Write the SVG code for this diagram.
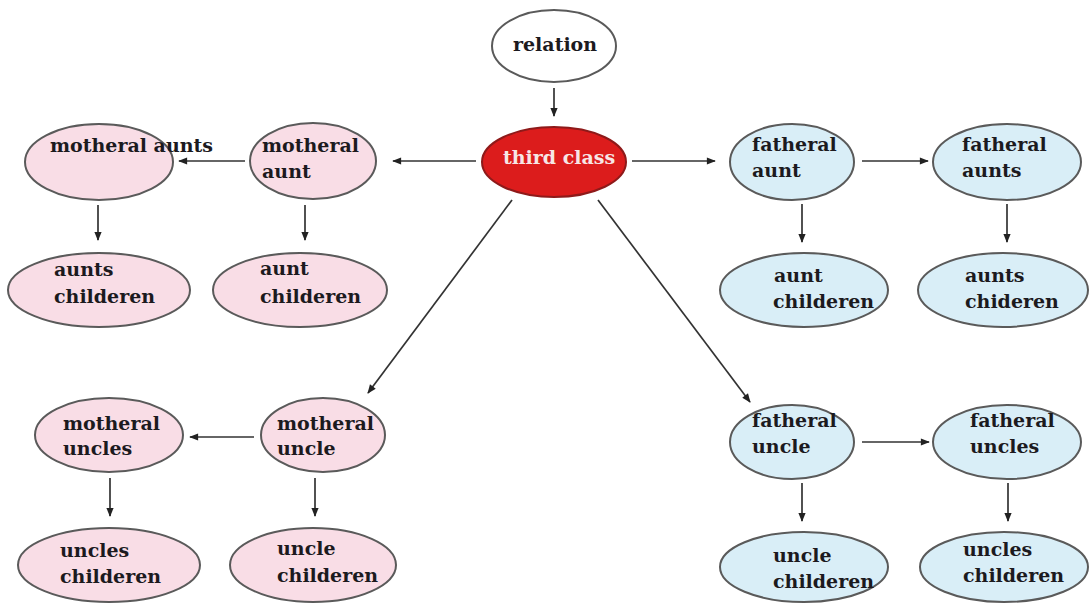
<svg xmlns="http://www.w3.org/2000/svg" width="1089" height="603" viewBox="0 0 1089 603">
<style>
.pink{fill:#f9dde6;stroke:#5a5a5a;stroke-width:2}
.blue{fill:#d9eef7;stroke:#5a5a5a;stroke-width:2}
.white{fill:#fff;stroke:#5a5a5a;stroke-width:2}
.red{fill:#dc1c1c;stroke:#8e1a1a;stroke-width:2}
text{font-family:"DejaVu Serif","Liberation Serif",serif;font-weight:bold;font-size:19px;fill:#1c1a1e}
.wt{fill:#f7e6e6}
.c line{stroke:#333;stroke-width:1.7;marker-end:url(#ah)}
</style>
<defs>
<marker id="ah" viewBox="0 0 10 10" refX="9" refY="5" markerWidth="10" markerHeight="9" markerUnits="userSpaceOnUse" orient="auto">
<path d="M0,1 L10,5 L0,9 z" fill="#222"/>
</marker>
</defs>
<rect width="1089" height="603" fill="#fff"/>
<g class="c" id="connectors">
<line x1="554" y1="88" x2="554" y2="116"/>
<line x1="476" y1="161" x2="393" y2="161"/>
<line x1="245" y1="161" x2="179" y2="161"/>
<line x1="98" y1="205" x2="98" y2="240"/>
<line x1="305" y1="205" x2="305" y2="240"/>
<line x1="632" y1="161" x2="715" y2="161"/>
<line x1="862" y1="161" x2="928" y2="161"/>
<line x1="802" y1="204" x2="802" y2="242"/>
<line x1="1007" y1="204" x2="1007" y2="242"/>
<line x1="512" y1="200" x2="368" y2="393"/>
<line x1="598" y1="200" x2="750" y2="402"/>
<line x1="254" y1="437" x2="190" y2="437"/>
<line x1="110" y1="478" x2="110" y2="516"/>
<line x1="315" y1="478" x2="315" y2="516"/>
<line x1="862" y1="442" x2="929" y2="442"/>
<line x1="802" y1="483" x2="802" y2="521"/>
<line x1="1008" y1="483" x2="1008" y2="521"/>
</g>
<g id="relation"><ellipse class="white" cx="554" cy="46" rx="62" ry="36"/><text x="513" y="51">relation</text></g>
<g id="third-class"><ellipse class="red" cx="554" cy="162" rx="72" ry="35"/><text class="wt" x="503" y="164">third class</text></g>
<g id="motheral-aunt"><ellipse class="pink" cx="313" cy="161" rx="63" ry="38"/><text x="262" y="152">motheral</text><text x="262" y="178">aunt</text></g>
<g id="motheral-aunts"><ellipse class="pink" cx="99" cy="162" rx="74" ry="38"/><text x="50" y="152">motheral aunts</text></g>
<g id="aunts-childeren"><ellipse class="pink" cx="99" cy="290" rx="91" ry="37"/><text x="54" y="276">aunts</text><text x="54" y="303">childeren</text></g>
<g id="aunt-childeren-m"><ellipse class="pink" cx="300" cy="290" rx="87" ry="37"/><text x="260" y="275">aunt</text><text x="260" y="303">childeren</text></g>
<g id="fatheral-aunt"><ellipse class="blue" cx="792" cy="162" rx="62" ry="38"/><text x="752" y="151">fatheral</text><text x="752" y="177">aunt</text></g>
<g id="fatheral-aunts"><ellipse class="blue" cx="1007" cy="162" rx="74" ry="38"/><text x="962" y="151">fatheral</text><text x="962" y="177">aunts</text></g>
<g id="aunt-childeren-f"><ellipse class="blue" cx="804" cy="290" rx="84" ry="37"/><text x="774" y="282">aunt</text><text x="773" y="308">childeren</text></g>
<g id="aunts-chideren"><ellipse class="blue" cx="1003" cy="290" rx="85" ry="37"/><text x="965" y="282">aunts</text><text x="965" y="308">chideren</text></g>
<g id="motheral-uncle"><ellipse class="pink" cx="323" cy="435" rx="62" ry="37"/><text x="277" y="430">motheral</text><text x="277" y="455">uncle</text></g>
<g id="motheral-uncles"><ellipse class="pink" cx="109" cy="435" rx="74" ry="37"/><text x="63" y="430">motheral</text><text x="63" y="455">uncles</text></g>
<g id="uncles-childeren-m"><ellipse class="pink" cx="109" cy="565" rx="91" ry="37"/><text x="60" y="557">uncles</text><text x="60" y="583">childeren</text></g>
<g id="uncle-childeren-m"><ellipse class="pink" cx="313" cy="565" rx="83" ry="37"/><text x="277" y="555">uncle</text><text x="277" y="582">childeren</text></g>
<g id="fatheral-uncle"><ellipse class="blue" cx="792" cy="442" rx="62" ry="37"/><text x="752" y="427">fatheral</text><text x="752" y="453">uncle</text></g>
<g id="fatheral-uncles"><ellipse class="blue" cx="1007" cy="442" rx="74" ry="37"/><text x="970" y="427">fatheral</text><text x="970" y="453">uncles</text></g>
<g id="uncle-childeren-f"><ellipse class="blue" cx="804" cy="567" rx="84" ry="35"/><text x="773" y="562">uncle</text><text x="773" y="588">childeren</text></g>
<g id="uncles-childeren-f"><ellipse class="blue" cx="1004" cy="567" rx="84" ry="35"/><text x="963" y="556">uncles</text><text x="963" y="582">childeren</text></g>
</svg>
